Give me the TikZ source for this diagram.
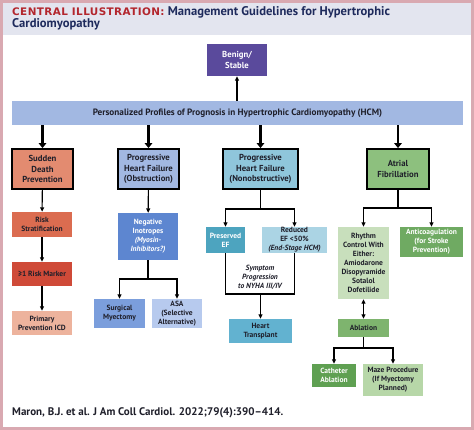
\documentclass[tikz,border=0pt]{standalone}
\usepackage{fontspec}
\setmainfont{PT Sans}
\newfontfamily\widefont[LetterSpace=4]{DejaVu Sans}
\usetikzlibrary{arrows, arrows.meta}
\usetikzlibrary{calc}

\definecolor{framepink}{HTML}{D9A9B1}
\definecolor{headband}{HTML}{E3E5EF}
\definecolor{titlered}{HTML}{B3262D}
\definecolor{navy}{HTML}{1E2A5C}
\definecolor{inkdark}{HTML}{1F1F2A}
\definecolor{benigncol}{HTML}{5A4A9C}
\definecolor{hcmcol}{HTML}{A2B8E2}
\definecolor{sdpcol}{HTML}{E38B70}
\definecolor{riskcol}{HTML}{DB6C50}
\definecolor{markercol}{HTML}{CF4A38}
\definecolor{icdcol}{HTML}{EDB39D}
\definecolor{inotrcol}{HTML}{5D86D0}
\definecolor{myectcol}{HTML}{7B9EDC}
\definecolor{asacol}{HTML}{B7CAEE}
\definecolor{hfncol}{HTML}{8FC6DB}
\definecolor{pefcol}{HTML}{4DA4BF}
\definecolor{refcol}{HTML}{ABD4E4}
\definecolor{htxcol}{HTML}{62B2D0}
\definecolor{afcol}{HTML}{8DC07E}
\definecolor{rhythmcol}{HTML}{C8DFBC}
\definecolor{anticcol}{HTML}{6FAA62}
\definecolor{ablcol}{HTML}{7EB46E}
\definecolor{cathcol}{HTML}{5FA052}
\definecolor{mazecol}{HTML}{B7D7A8}

\begin{document}
\begin{tikzpicture}[x=1pt, y=-1pt,
    mainbox/.style={draw=black, line width=1.8pt, inner sep=0pt, align=center, text=inkdark,
      font=\bfseries\fontsize{8.7}{10.3}\selectfont, minimum height=40pt},
    subbox/.style={inner sep=0pt, align=center, text=inkdark,
      font=\bfseries\fontsize{7.5}{9}\selectfont},
    thinarrow/.style={line width=1.1pt, -{Triangle[length=4.5pt, width=4pt]}},
    bigarrow/.style={line width=2.6pt, -{Triangle[length=5pt, width=7.5pt]}},
    plainline/.style={line width=1.1pt}]

  % frame and header band
  \fill[framepink] (0,0) rectangle (474,430);
  \fill[white] (3,3) rectangle (471,427);
  \fill[headband] (3,3) rectangle (471,35);
  \useasboundingbox (0,0) rectangle (474,430);

  \node[anchor=north west, inner sep=0pt, align=left, text=navy,
    font=\bfseries\fontsize{12.6}{12.5}\selectfont] (title) at (12,6)
    {{\color{titlered}\widefont\bfseries\fontsize{10.4}{12.5}\selectfont CENTRAL ILLUSTRATION:} Management Guidelines for Hypertrophic\\Cardiomyopathy};

  % top
  \node[subbox, fill=benigncol, text=white, minimum width=60pt, minimum height=32pt,
    font=\bfseries\fontsize{8.7}{10.3}\selectfont] (benign) at (237,60) {Benign/\\Stable};
  \node[subbox, fill=hcmcol, minimum width=451pt, minimum height=24pt,
    font=\bfseries\fontsize{9.2}{10}\selectfont] (hcm) at (237.5,113)
    {Personalized Profiles of Prognosis in Hypertrophic Cardiomyopathy (HCM)};

  % main profiles
  \node[mainbox, fill=sdpcol, minimum width=61pt] (sdp) at (42.5,169) {Sudden\\Death\\Prevention};
  \node[mainbox, fill=hcmcol, minimum width=61pt] (hfo) at (148.5,169) {Progressive\\Heart Failure\\(Obstruction)};
  \node[mainbox, fill=hfncol, minimum width=75pt] (hfn) at (260.5,169) {Progressive\\Heart Failure\\(Nonobstructive)};
  \node[mainbox, fill=afcol, minimum width=62pt] (af) at (398,169) {Atrial\\Fibrillation};

  % sudden death column
  \node[subbox, fill=riskcol, minimum width=60pt, minimum height=25pt] (risk) at (42,224.5) {Risk\\Stratification};
  \node[subbox, fill=markercol, minimum width=60pt, minimum height=24pt] (marker) at (42,274) {≥1 Risk Marker};
  \node[subbox, fill=icdcol, minimum width=60pt, minimum height=24pt] (icd) at (42,323) {Primary\\Prevention ICD};

  % obstruction column
  \node[subbox, fill=inotrcol, text=white, minimum width=60pt, minimum height=47pt] (inotr) at (148,236.5)
    {Negative\\Inotropes\\\textit{(Myosin-}\\\textit{Inhibitors?)}};
  \node[subbox, fill=myectcol, minimum width=51pt, minimum height=29pt] (myect) at (119.5,313.5) {Surgical\\Myectomy};
  \node[subbox, fill=asacol, minimum width=50pt, minimum height=29pt] (asa) at (177,313.5) {ASA\\(Selective\\Alternative)};

  % nonobstructive column
  \node[subbox, fill=pefcol, text=white, minimum width=39pt, minimum height=26pt] (pef) at (225.5,240) {Preserved\\EF};
  \node[subbox, fill=refcol, minimum width=65pt, minimum height=26pt] (ref) at (294.5,240)
    {Reduced\\EF <50\%\\\textit{(End-Stage HCM)}};
  \node[subbox, font=\bfseries\itshape\fontsize{7.5}{9}\selectfont] (sympt) at (260,277)
    {Symptom\\Progression\\to NYHA III/IV};
  \node[subbox, fill=htxcol, minimum width=63pt, minimum height=24pt] (htx) at (260.5,331) {Heart\\Transplant};

  % atrial fibrillation column
  \node[subbox, fill=rhythmcol, minimum width=51pt, minimum height=72pt] (rhythm) at (363.5,263)
    {Rhythm\\Control With\\Either:\\Amiodarone\\Disopyramide\\Sotalol\\Dofetilide};
  \node[subbox, fill=anticcol, text=white, minimum width=63pt, minimum height=30pt] (antic) at (431.5,242)
    {Anticoagulation\\(for Stroke\\Prevention)};
  \node[subbox, fill=ablcol, minimum width=51pt, minimum height=18pt] (abl) at (363.5,328) {Ablation};
  \node[subbox, fill=cathcol, text=white, minimum width=44pt, minimum height=23pt] (cath) at (334,375.5) {Catheter\\Ablation};
  \node[subbox, fill=mazecol, minimum width=60pt, minimum height=32pt] (maze) at (393,380)
    {Maze Procedure\\(If Myectomy\\Planned)};

  % footer
  \node[anchor=west, inner sep=0pt, text=inkdark, font=\bfseries\fontsize{11}{12}\selectfont] (cite) at (12,413)
    {Maron, B.J. et al. J Am Coll Cardiol. 2022;79(4):390–414.};

  % fork points
  \coordinate (fork1) at (148,279);
  \coordinate (fork2) at (260.5,209);
  \coordinate (merge) at (260.5,294);
  \coordinate (fork3) at (398,208);
  \coordinate (fork4) at (363.5,348);

  % connectors
  \draw[thinarrow] (hcm.north -| benign) -- (benign.south);
  \draw[bigarrow] (hcm.south -| sdp) -- (sdp.north);
  \draw[bigarrow] (hcm.south -| hfo) -- (hfo.north);
  \draw[bigarrow] (hcm.south -| hfn) -- (hfn.north);
  \draw[bigarrow] (hcm.south -| af) -- (af.north);

  \draw[thinarrow] (sdp) -- (risk);
  \draw[thinarrow] (risk) -- (marker);
  \draw[thinarrow] (marker) -- (icd);

  \draw[thinarrow] (hfo) -- (inotr);
  \draw[plainline] (inotr.south) -- (fork1);
  \draw[thinarrow] (fork1) -| (myect.north);
  \draw[thinarrow] (fork1) -| (asa.north);

  \draw[plainline] (hfn.south) -- (fork2);
  \draw[thinarrow] (fork2) -| (pef.north);
  \draw[thinarrow] (fork2) -| (ref.north);
  \draw[plainline] (pef.south) |- (merge) -| (ref.south);
  \draw[thinarrow] (merge) -- (htx.north);

  \draw[plainline] (af.south) -- (fork3);
  \draw[thinarrow] (fork3) -| (rhythm.north);
  \draw[thinarrow] (fork3) -| (antic.north);
  \draw[line width=1.1pt, {Triangle[length=4.5pt, width=4pt]}-{Triangle[length=4.5pt, width=4pt]}] (rhythm) -- (abl);
  \draw[plainline] (abl.south) -- (fork4);
  \draw[thinarrow] (fork4) -| (cath.north);
  \draw[thinarrow] (fork4) -| (maze.north);
\end{tikzpicture}
\end{document}
